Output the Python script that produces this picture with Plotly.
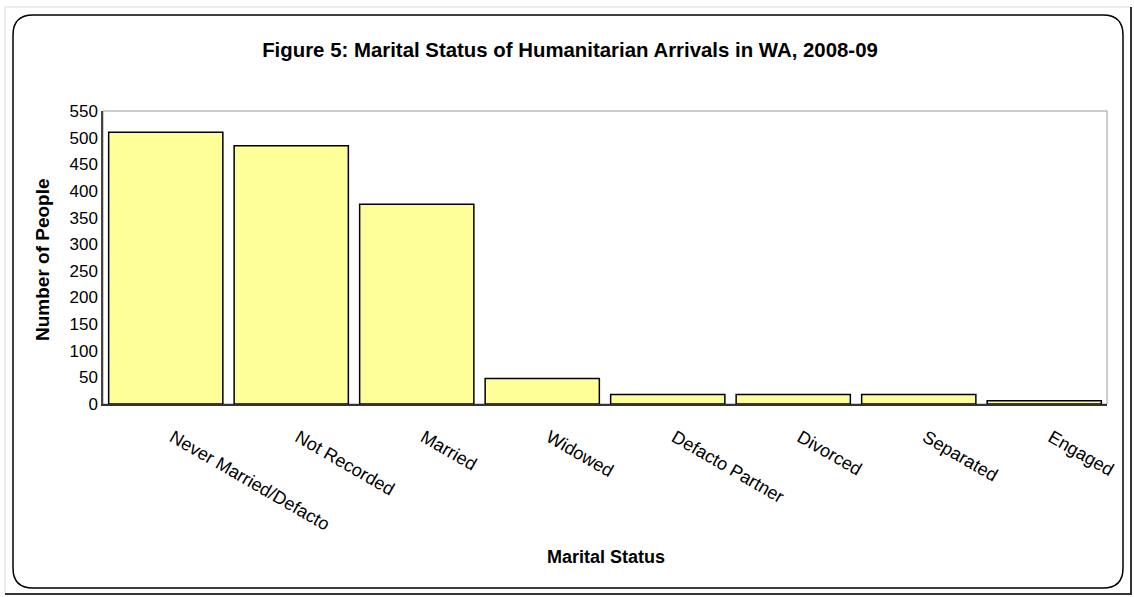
import plotly.graph_objects as go

categories = ["Never Married/Defacto", "Not Recorded", "Married", "Widowed",
              "Defacto Partner", "Divorced", "Separated", "Engaged"]
people = [510, 485, 375, 48, 18, 18, 18, 6]
y_ticks = [0, 50, 100, 150, 200, 250, 300, 350, 400, 450, 500, 550]

W, H = 1134, 597
ML, MR, MT, MB = 103, 27, 111, 193
PW = W - ML - MR
PH = H - MT - MB

def px(x):
    return (x - ML) / PW

def py(y):
    return (H - MB - y) / PH

FONT = "Liberation Sans, Arial, sans-serif"

fig = go.Figure()
fig.add_trace(go.Bar(
    x=categories, y=people,
    marker=dict(color="#FFFF99", line=dict(color="#000000", width=1.5)),
    hoverinfo="x+y",
))

# rounded chart border
x0, x1, y0, y1, r = 13, 1123, 15, 588, 20
path = (f"M {px(x0+r)},{py(y0)} L {px(x1-r)},{py(y0)} "
        f"Q {px(x1)},{py(y0)} {px(x1)},{py(y0+r)} "
        f"L {px(x1)},{py(y1-r)} Q {px(x1)},{py(y1)} {px(x1-r)},{py(y1)} "
        f"L {px(x0+r)},{py(y1)} Q {px(x0)},{py(y1)} {px(x0)},{py(y1-r)} "
        f"L {px(x0)},{py(y0+r)} Q {px(x0)},{py(y0)} {px(x0+r)},{py(y0)} Z")

shapes = [
    dict(type="path", path=path, xref="paper", yref="paper",
         line=dict(color="#000000", width=1.5), layer="below"),
    # page frame lines
    dict(type="line", xref="paper", yref="paper", x0=px(5), x1=px(1131), y0=py(7), y1=py(7),
         line=dict(color="#d9d9d9", width=1)),
    dict(type="line", xref="paper", yref="paper", x0=px(5), x1=px(5), y0=py(7), y1=py(593),
         line=dict(color="#d9d9d9", width=1)),
    dict(type="line", xref="paper", yref="paper", x0=px(1131), x1=px(1131), y0=py(7), y1=py(594),
         line=dict(color="#333333", width=2)),
    dict(type="line", xref="paper", yref="paper", x0=px(5), x1=px(1132), y0=py(594), y1=py(594),
         line=dict(color="#333333", width=2)),
    # plot area border (top/right gray)
    dict(type="rect", xref="paper", yref="paper", x0=0, x1=1, y0=0, y1=1,
         line=dict(color="#999999", width=1), layer="below"),
]

fig.update_layout(
    width=W, height=H,
    margin=dict(l=ML, r=MR, t=MT, b=MB),
    paper_bgcolor="white", plot_bgcolor="white",
    bargap=0.09,
    showlegend=False,
    font=dict(family=FONT, color="#000000", size=17),
    title=dict(text="<b>Figure 5: Marital Status of Humanitarian Arrivals in WA, 2008-09</b>",
               xref="container", yref="container",
               x=570 / W, xanchor="center", y=1 - 50 / H, yanchor="middle",
               font=dict(family=FONT, size=20.4, color="#000000")),
    xaxis=dict(
        tickangle=30, tickfont=dict(family=FONT, size=18),
        showline=True, linecolor="#333333", linewidth=2,
        showgrid=False, ticks="outside", ticklen=14, tickcolor="rgba(0,0,0,0)",
        ticklabelshift=7,
        zeroline=False, fixedrange=True,
    ),
    yaxis=dict(
        range=[0, 550], tickvals=y_ticks, tickfont=dict(family=FONT, size=17),
        showline=True, linecolor="#444444", linewidth=1.5,
        showgrid=False, zeroline=False, ticks="", fixedrange=True,
    ),
    shapes=shapes,
    annotations=[
        dict(text="<b>Number of People</b>", xref="paper", yref="paper",
             x=px(42), y=py(260), textangle=-90, showarrow=False,
             xanchor="center", yanchor="middle",
             font=dict(family=FONT, size=19, color="#000000")),
        dict(text="<b>Marital Status</b>", xref="paper", yref="paper",
             x=px(606), y=py(557), showarrow=False,
             xanchor="center", yanchor="middle",
             font=dict(family=FONT, size=18, color="#000000")),
    ],
)

fig.write_html("out.html", config={"displayModeBar": False},
               post_script="document.body.style.margin='0';document.body.style.overflow='hidden';")
